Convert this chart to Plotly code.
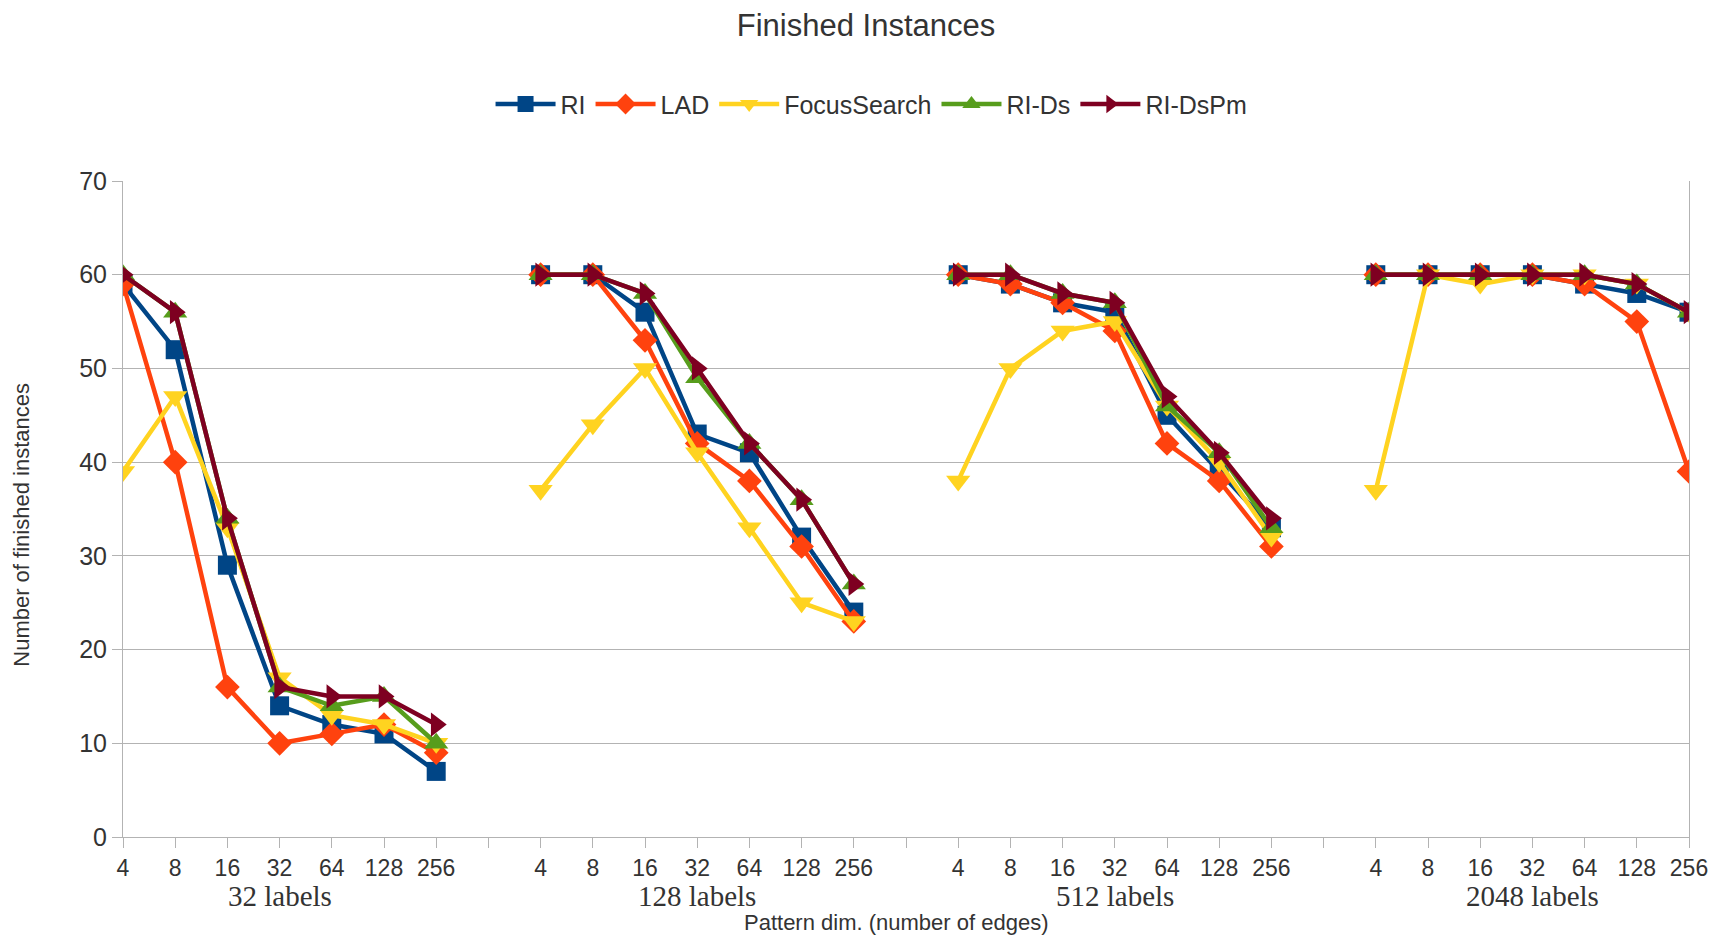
import plotly.graph_objects as go

# ---- data ----
sizes = ["4", "8", "16", "32", "64", "128", "256"]
groups = ["32 labels", "128 labels", "512 labels", "2048 labels"]

series_names = ["RI", "LAD", "FocusSearch", "RI-Ds", "RI-DsPm"]
RI = [59, 52, 29, 14, 12, 11, 7,
      60, 60, 56, 43, 41, 32, 24,
      60, 59, 57, 56, 45, 39, 33,
      60, 60, 60, 60, 59, 58, 56]
LAD = [59, 40, 16, 10, 11, 12, 9,
       60, 60, 53, 42, 38, 31, 23,
       60, 59, 57, 54, 42, 38, 31,
       60, 60, 60, 60, 59, 55, 39]
FocusSearch = [39, 47, 33, 17, 13, 12, 10,
               37, 44, 50, 41, 33, 25, 23,
               38, 50, 54, 55, 46, 40, 32,
               37, 60, 59, 60, 60, 59, 56]
RI_Ds = [60, 56, 34, 16, 14, 15, 10,
         60, 60, 58, 49, 42, 36, 27,
         60, 60, 58, 57, 46, 41, 33,
         60, 60, 60, 60, 60, 59, 56]
RI_DsPm = [60, 56, 34, 16, 15, 15, 12,
           60, 60, 58, 50, 42, 36, 27,
           60, 60, 58, 57, 47, 41, 34,
           60, 60, 60, 60, 60, 59, 56]

# ---- styles ----
colors = ["#004586", "#ff420e", "#ffd320", "#579d1c", "#7e0021"]
symbols = ["square", "diamond", "triangle-down", "triangle-up", "triangle-right"]
msizes = [19, 19, 21, 21, 21]

# ---- build categorical axis with gaps between groups ----
cats, ticktext, group_center = [], [], []
for gi, g in enumerate(groups):
    for s in sizes:
        cats.append(f"{g}|{s}")
        ticktext.append(s)
    group_center.append(f"{g}|32")
    if gi < len(groups) - 1:
        cats.append(f"gap{gi}")
        ticktext.append("")


def expand(vals):
    out, k = [], 0
    for c in cats:
        if c.startswith("gap"):
            out.append(None)
        else:
            out.append(vals[k])
            k += 1
    return out


fig = go.Figure()
for name, vals, col, sym, ms in zip(series_names,
                                    [RI, LAD, FocusSearch, RI_Ds, RI_DsPm],
                                    colors, symbols, msizes):
    fig.add_trace(go.Scatter(
        x=cats, y=expand(vals), name=name, mode="lines+markers",
        line=dict(color=col, width=4.5),
        marker=dict(symbol=sym, size=ms, color=col, line=dict(width=0)),
        connectgaps=False))

grid = "#b3b3b3"
W, H = 1716, 931
fig.update_layout(
    width=W, height=H,
    paper_bgcolor="white", plot_bgcolor="white",
    margin=dict(l=115, r=35, t=173, b=102),
    font=dict(family="Liberation Sans, Arial, sans-serif", color="#333333", size=22),
    title=dict(text="Finished Instances", x=0.5, xanchor="center",
               y=1 - 17 / H, yanchor="middle",
               font=dict(size=31, color="#333333")),
    legend=dict(orientation="h", x=0.478, xanchor="center", y=1.117, yanchor="middle",
                font=dict(size=25, color="#333333"), itemwidth=60,
                traceorder="normal"),
    showlegend=True,
)
fig.update_xaxes(
    type="category", categoryorder="array", categoryarray=cats,
    range=[0, len(cats) - 1],
    tickmode="array", tickvals=cats, ticktext=ticktext,
    ticks="outside", ticklen=10, tickcolor=grid, tickwidth=1,
    showgrid=False, showline=True, linecolor=grid, linewidth=1,
    tickfont=dict(size=23, color="#333333"), zeroline=False,
)
fig.update_yaxes(
    range=[0, 70], dtick=10, tick0=0,
    ticks="outside", ticklen=10, tickcolor=grid, tickwidth=1,
    showgrid=True, gridcolor=grid, gridwidth=1,
    showline=True, linecolor=grid, linewidth=1, mirror=True,
    zeroline=False, tickfont=dict(size=25, color="#333333"),
)

# group labels
for g, c in zip(groups, group_center):
    fig.add_annotation(x=c, xref="x", y=-0.09, yref="paper", text=g,
                       showarrow=False, xanchor="center", yanchor="middle",
                       font=dict(family="Liberation Serif, Times New Roman, serif",
                                 size=29, color="#333333"))
# axis titles
fig.add_annotation(x=0.4935, xref="paper", y=-0.131, yref="paper",
                   text="Pattern dim. (number of edges)", showarrow=False,
                   xanchor="center", yanchor="middle",
                   font=dict(size=22, color="#333333"))
fig.add_annotation(x=-0.0645, xref="paper", y=0.476, yref="paper",
                   text="Number of finished instances", showarrow=False,
                   textangle=-90, xanchor="center", yanchor="middle",
                   font=dict(size=22, color="#333333"))

fig.write_html("out.html")
